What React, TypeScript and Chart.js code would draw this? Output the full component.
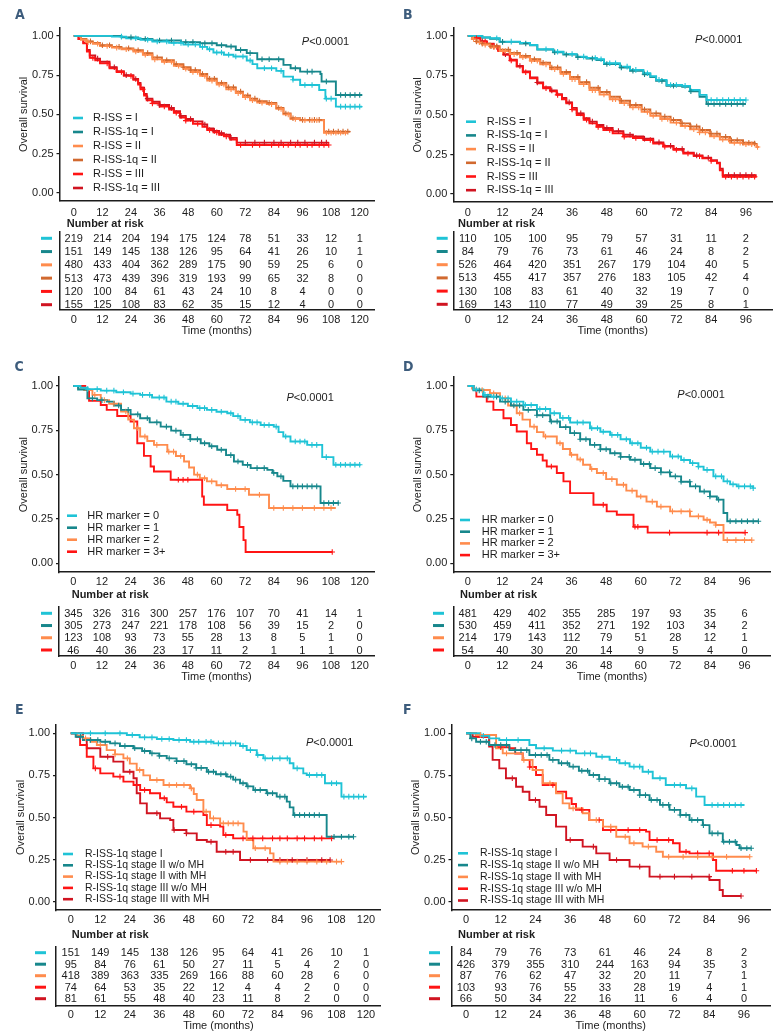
import React, { useEffect, useRef } from "react";
import { Chart, registerables } from "chart.js";

Chart.register(...registerables);

const FONT = '"Liberation Sans", Arial, Helvetica, sans-serif';
const LETTER_FONT = '"Liberation Sans Narrow", "DejaVu Sans Condensed", "Liberation Sans", sans-serif';
const INK = "#1c1c1c";
const LETTER_INK = "#3d5c7c";

type Pt = [number, number];

// ---------------- tick labels ----------------
const TICKS_120 = [0, 12, 24, 36, 48, 60, 72, 84, 96, 108, 120];
const TICKS_96 = [0, 12, 24, 36, 48, 60, 72, 84, 96];
const Y_TICKS = [0, 0.25, 0.5, 0.75, 1];

// ---------------- categories ----------------
const LABELS_AB = ["R-ISS = I", "R-ISS-1q = I", "R-ISS = II", "R-ISS-1q = II", "R-ISS = III", "R-ISS-1q = III"];
const LABELS_CD = ["HR marker = 0", "HR marker = 1", "HR marker = 2", "HR marker = 3+"];
const LABELS_EF = [
  "R-ISS-1q stage I",
  "R-ISS-1q stage II w/o MH",
  "R-ISS-1q stage II with MH",
  "R-ISS-1q stage III w/o MH",
  "R-ISS-1q stage III with MH",
];

// ---------------- colours ----------------
const CYAN = "#1fc3d6";
const TEAL = "#17878c";
const ORANGE = "#ff8c4d";
const BROWN = "#d1692f";
const RED = "#ff1414";
const DARKRED = "#d01421";
const COLORS_AB = [CYAN, TEAL, ORANGE, BROWN, RED, DARKRED];
const COLORS_CD = [CYAN, TEAL, ORANGE, RED];
const COLORS_EF = [CYAN, TEAL, ORANGE, RED, DARKRED];

// ---------------- panel A curves [months, survival] ----------------
const A_RISS_I: Pt[] = [[0,1],[16,0.995],[22,0.985],[28,0.975],[33,0.964],[40,0.955],[46,0.945],[53,0.93],[56,0.915],[58.6,0.894],[63,0.88],[67,0.868],[72.6,0.843],[75,0.82],[77,0.794],[85,0.777],[88,0.74],[92,0.72],[95,0.687],[103,0.655],[105.6,0.6],[110,0.549],[121,0.549]];
const A_RISS1Q_I: Pt[] = [[0,1],[20,0.99],[27,0.98],[33,0.97],[45,0.96],[53,0.953],[60,0.94],[64,0.932],[68,0.91],[72.6,0.89],[77,0.851],[88,0.815],[91,0.794],[95,0.772],[103.5,0.757],[104,0.709],[110,0.623],[121,0.623]];
const A_RISS_II: Pt[] = [[0,1],[3,0.975],[5.3,0.96],[8,0.95],[11,0.935],[16,0.925],[20,0.915],[25,0.9],[29,0.88],[33,0.85],[37,0.835],[42,0.81],[46,0.79],[49,0.77],[53,0.745],[56,0.715],[60,0.69],[64,0.66],[68,0.635],[71,0.61],[74,0.59],[77,0.575],[81,0.565],[85,0.535],[88,0.5],[91,0.47],[95,0.462],[105,0.383],[114.7,0.383]];
const A_RISS1Q_II: Pt[] = [[0,1],[3,0.98],[5.3,0.965],[8,0.955],[11,0.94],[16,0.93],[20,0.92],[25,0.908],[29,0.89],[33,0.862],[37,0.845],[42,0.82],[46,0.8],[49,0.782],[53,0.757],[56,0.727],[60,0.7],[64,0.672],[68,0.645],[71,0.62],[74,0.6],[77,0.583],[81,0.573],[85,0.54],[88,0.505],[91,0.475],[95,0.465],[105,0.39],[116,0.39]];
const A_RISS_III: Pt[] = [[0,1],[2,0.98],[4,0.953],[5.5,0.9],[6.7,0.86],[9,0.845],[11,0.825],[15,0.794],[18,0.77],[21,0.745],[25,0.72],[27,0.69],[28,0.66],[29.5,0.62],[30.6,0.59],[33,0.57],[36,0.55],[40,0.53],[42,0.51],[44.6,0.48],[47,0.46],[50,0.44],[54,0.42],[56,0.4],[58.6,0.385],[61,0.37],[63,0.36],[65.6,0.34],[68.4,0.305],[107,0.305]];
const A_RISS1Q_III: Pt[] = [[0,1],[2,0.98],[4,0.955],[5.5,0.91],[6.7,0.875],[9,0.855],[11,0.835],[15,0.8],[18,0.775],[21,0.75],[25,0.725],[27,0.7],[28,0.67],[29.5,0.63],[30.6,0.6],[33,0.58],[36,0.56],[40,0.54],[42,0.52],[44.6,0.49],[47,0.47],[50,0.455],[54,0.435],[56,0.41],[58.6,0.395],[61,0.38],[63,0.37],[65.6,0.35],[68.4,0.32],[107,0.32]];

// censoring times (months)
const A_RISS_I_C = [20,26,31,35,39,42,45,48,51,54,57,60,62,65,68,71,74,80,83,87,92,97,100,106,108,112,114,116,118,120];
const A_RISS1Q_I_C = [24,30,36,41,47,50,55,58,62,66,70,74,79,82,86,93,98,100,106,112,114,116,118,120];
const A_RISS_II_C = [6,10,14,18,22,26,30,34,38,41,44,47,50,52,55,58,61,63,66,69,72,75,79,83,87,90,93,97,100,102,106,108,110,112,114];
const A_RISS1Q_II_C = [7,12,15,19,23,27,31,35,39,43,46,49,51,54,57,59,62,65,67,70,73,76,78,82,86,89,92,96,99,101,103,107,109,111,113,115];
const A_RISS_III_C = [8,14,20,24,29,33,38,43,47,52,57,60,64,70,75,78,83,86,88,90,93,95,98,100,103,105,107];
const A_RISS1Q_III_C = [10,17,22,26,31,36,41,45,49,55,59,62,66,72,76,80,84,87,91,94,97,101,104,106];

// ---------------- panel B ----------------
const B_RISS_I: Pt[] = [[0,1],[5,0.99],[7.7,0.985],[11,0.964],[18,0.955],[21.5,0.943],[24,0.916],[29.5,0.9],[33,0.885],[37.6,0.869],[41,0.86],[44.5,0.852],[47,0.827],[52.5,0.806],[56,0.785],[60.6,0.764],[63,0.745],[65,0.722],[68.6,0.69],[74,0.684],[76.7,0.658],[80,0.627],[82.4,0.595],[96,0.595]];
const B_RISS1Q_I: Pt[] = [[0,1],[5,0.99],[7.7,0.982],[11,0.962],[18,0.952],[21.5,0.94],[24,0.913],[29.5,0.897],[33,0.882],[37.6,0.866],[41,0.857],[44.5,0.848],[47,0.822],[52.5,0.8],[56,0.78],[60.6,0.758],[63,0.74],[65,0.716],[68.6,0.685],[74,0.678],[76.7,0.65],[80,0.615],[82.4,0.57],[96,0.57]];
const B_RISS_II: Pt[] = [[0,1],[1.5,0.98],[3,0.96],[5,0.945],[7.7,0.928],[11,0.905],[14.6,0.885],[18,0.865],[21.5,0.843],[25,0.82],[28.4,0.79],[32,0.76],[35.3,0.727],[38.5,0.695],[42,0.657],[45.5,0.63],[49,0.6],[52.5,0.575],[56,0.548],[60,0.52],[63,0.495],[66.5,0.475],[70,0.452],[73.5,0.43],[76.7,0.41],[80,0.39],[83.6,0.366],[87,0.345],[90.5,0.325],[95,0.315],[99.7,0.298],[100.5,0.298]];
const B_RISS1Q_II: Pt[] = [[0,1],[1.5,0.982],[3,0.965],[5,0.95],[7.7,0.935],[11,0.913],[14.6,0.893],[18,0.873],[21.5,0.852],[25,0.83],[28.4,0.8],[32,0.772],[35.3,0.74],[38.5,0.708],[42,0.672],[45.5,0.645],[49,0.615],[52.5,0.59],[56,0.563],[60,0.535],[63,0.51],[66.5,0.49],[70,0.468],[73.5,0.447],[76.7,0.427],[80,0.405],[83.6,0.382],[87,0.362],[90.5,0.34],[95,0.325],[99,0.32]];
const B_RISS_III: Pt[] = [[0,1],[2,0.985],[4.3,0.964],[6.5,0.948],[8.9,0.93],[10.5,0.905],[12.3,0.88],[14.5,0.845],[16.9,0.806],[19,0.77],[21.5,0.732],[24,0.7],[26,0.669],[28.5,0.65],[30.7,0.627],[32.5,0.6],[34,0.574],[36,0.535],[37.6,0.5],[40,0.47],[42,0.447],[44.5,0.425],[46.8,0.405],[50,0.385],[53.7,0.363],[57,0.355],[60.6,0.342],[64,0.32],[67.5,0.3],[71,0.28],[74.4,0.257],[78,0.24],[81,0.226],[84,0.21],[86,0.194],[87,0.15],[88,0.11],[99.7,0.11]];
const B_RISS1Q_III: Pt[] = [[0,1],[2,0.985],[4.3,0.966],[6.5,0.95],[8.9,0.933],[10.5,0.91],[12.3,0.885],[14.5,0.85],[16.9,0.81],[19,0.775],[21.5,0.738],[24,0.705],[26,0.675],[28.5,0.655],[30.7,0.632],[32.5,0.607],[34,0.58],[36,0.545],[37.6,0.51],[40,0.48],[42,0.458],[44.5,0.437],[46.8,0.418],[50,0.398],[53.7,0.375],[57,0.365],[60.6,0.35],[64,0.327],[67.5,0.305],[71,0.285],[74.4,0.262],[78,0.245],[81,0.23],[84,0.214],[86,0.198],[87,0.16],[88,0.12],[99.7,0.12]];

const B_RISS_I_C = [10,15,27,31,36,40,44,46,49,51,55,58,62,66,70,72,75,84,86,88,90,92,94,96];
const B_RISS1Q_I_C = [12,20,30,34,38,43,48,53,57,61,67,71,77,83,85,87,89,91,93,95];
const B_RISS_II_C = [2,4,6,9,12,13,16,19,22,24,27,30,33,36,37,40,43,44,47,50,51,54,57,59,62,64,67,69,72,75,78,80,82,85,88,90,92,94,96,98,100];
const B_RISS1Q_II_C = [3,5,8,10,14,17,20,23,26,29,31,34,38,41,45,48,53,56,58,61,65,68,71,74,77,79,81,84,86,89,91,93,95,97,99];
const B_RISS_III_C = [3,6,10,15,20,27,31,36,41,45,49,54,58,63,68,72,76,80,84,89,91,93,95,97,99];
const B_RISS1Q_III_C = [5,9,13,18,24,29,35,39,43,48,52,56,61,66,70,74,79,83,90,92,94,96,98];

// ---------------- panel C ----------------
const C_HR0: Pt[] = [[0,1],[3,0.99],[6,0.982],[11.5,0.974],[18,0.965],[24,0.957],[28,0.95],[33,0.935],[39,0.912],[44,0.9],[48,0.887],[52,0.875],[56,0.865],[60,0.855],[64.5,0.846],[67,0.83],[70,0.809],[74,0.795],[78.5,0.78],[84,0.771],[86,0.74],[88,0.715],[91,0.687],[98,0.668],[104.3,0.599],[109,0.556],[120.4,0.556]];
const C_HR1: Pt[] = [[0,1],[2,0.98],[5.9,0.93],[10,0.92],[14,0.912],[17,0.89],[20,0.865],[24,0.84],[28,0.818],[32,0.795],[36.6,0.771],[41,0.748],[45,0.724],[49,0.7],[53.4,0.677],[57,0.66],[60.3,0.64],[64,0.61],[67.3,0.574],[71,0.555],[74.3,0.537],[81.3,0.527],[83.5,0.51],[85.5,0.49],[88,0.465],[91,0.434],[103.6,0.34],[111.3,0.34]];
const C_HR2: Pt[] = [[0,1],[2,0.985],[4.5,0.977],[8,0.95],[11.5,0.92],[15,0.9],[20,0.856],[23,0.81],[25.4,0.762],[28,0.715],[31,0.69],[33.8,0.668],[39.4,0.63],[43,0.605],[46.4,0.574],[48.5,0.54],[50.6,0.5],[53,0.48],[56,0.462],[60,0.44],[64.5,0.419],[73.6,0.387],[82,0.312],[110,0.312]];
const C_HR3: Pt[] = [[0,1],[5,0.977],[6.6,0.916],[11.5,0.893],[14,0.865],[18.4,0.831],[24,0.8],[26.8,0.677],[29.6,0.606],[32.4,0.546],[33.8,0.518],[40.8,0.471],[54,0.377],[54.7,0.33],[64.5,0.3],[68.7,0.274],[69.6,0.205],[71.3,0.131],[72.2,0.064],[108.5,0.064]];

const C_HR0_C = [6,10,14,17,21,25,29,32,36,38,41,43,46,50,53,55,58,62,66,69,72,75,77,80,82,85,89,93,95,97,100,102,106,110,112,114,116,118,120];
const C_HR1_C = [8,12,19,23,27,31,35,39,43,46,49,52,55,58,62,66,69,73,77,80,84,87,92,94,96,98,100,102,105,107,109,111];
const C_HR2_C = [9,13,17,22,27,30,35,40,42,45,52,55,58,62,68,72,78,84,88,92,96,101,105,108];
const C_HR3_C = [44,46,48,108.5];

// ---------------- panel D ----------------
const D_HR0: Pt[] = [[0,1],[2,0.98],[5.4,0.95],[8,0.94],[11.2,0.93],[15,0.912],[19.3,0.893],[24,0.87],[28.6,0.846],[32,0.82],[35.5,0.794],[42.4,0.762],[46,0.742],[49.4,0.724],[53,0.7],[56.3,0.677],[60,0.652],[63.3,0.63],[70.2,0.602],[74,0.583],[77.1,0.565],[80,0.545],[81.8,0.527],[85.2,0.49],[88.7,0.462],[91,0.445],[93.3,0.434],[99,0.424]];
const D_HR1: Pt[] = [[0,1],[2,0.975],[5.4,0.94],[11.2,0.912],[15,0.89],[19.3,0.865],[24,0.835],[28.6,0.8],[32,0.768],[35.5,0.734],[39,0.7],[42.4,0.668],[46,0.643],[49.4,0.621],[53,0.6],[56.3,0.584],[60,0.56],[63.3,0.537],[67,0.513],[70.2,0.49],[74,0.46],[77.1,0.434],[80.5,0.405],[84,0.377],[86.4,0.359],[88.7,0.284],[90,0.237],[100.8,0.237]];
const D_HR2: Pt[] = [[0,1],[1.5,0.985],[3,0.977],[7.7,0.959],[11.2,0.93],[14,0.89],[17,0.846],[19,0.81],[21.6,0.771],[24,0.74],[26.3,0.715],[30.9,0.677],[33,0.645],[35.5,0.612],[38,0.585],[40,0.556],[42.5,0.532],[44.8,0.509],[48,0.475],[51.7,0.443],[55,0.41],[58.6,0.377],[62,0.348],[65.6,0.32],[70.2,0.293],[77.1,0.265],[81.8,0.246],[84,0.23],[86,0.216],[88.7,0.131],[98.5,0.131]];
const D_HR3: Pt[] = [[0,1],[2,0.98],[3,0.94],[6.6,0.912],[8.9,0.865],[12.4,0.818],[15,0.78],[17,0.743],[20.5,0.677],[22,0.645],[24,0.612],[26,0.58],[27.4,0.546],[30.9,0.509],[33.2,0.462],[35.5,0.396],[43.6,0.33],[48.2,0.293],[51.7,0.274],[57.5,0.206],[62.4,0.173],[96.2,0.173]];

const D_HR0_C = [3,6,9,12,14,17,20,22,25,27,30,33,35,38,40,43,45,47,50,52,55,57,59,62,64,66,68,71,73,75,78,80,83,86,88,90,92,94,96,98,99];
const D_HR1_C = [4,7,10,13,16,18,21,24,26,29,31,34,37,39,41,44,46,48,51,53,56,58,61,63,65,67,70,72,74,77,79,82,84,87,91,93,95,97,99,100.8];
const D_HR2_C = [5,9,13,18,23,27,32,36,39,43,47,50,54,57,60,64,67,71,74,77,80,83,86,90,93,96,98.5];
const D_HR3_C = [29,47,58,59,70,83,87,96.2];

// ---------------- panel E ----------------
const E_I: Pt[] = [[0,1],[18.7,1],[22.8,0.99],[28,0.976],[35,0.966],[41.7,0.96],[48.5,0.95],[58,0.94],[68.8,0.925],[71.5,0.9],[75.6,0.871],[78.3,0.851],[89,0.822],[90.5,0.792],[94.5,0.762],[95.9,0.752],[103.3,0.703],[110,0.624],[120.3,0.624]];
const E_IIWO: Pt[] = [[0,1],[2,0.98],[5,0.96],[12,0.95],[16,0.94],[20,0.925],[25.5,0.911],[29,0.895],[32.2,0.881],[36,0.866],[39,0.851],[43,0.835],[47,0.816],[51,0.795],[55.3,0.772],[59,0.757],[63.4,0.743],[66,0.725],[68.8,0.703],[71.5,0.685],[74.2,0.663],[79.6,0.644],[83.7,0.624],[87.8,0.594],[89,0.56],[90.5,0.515],[104,0.386],[114.9,0.386]];
const E_IIW: Pt[] = [[0,1],[2.5,0.985],[5,0.97],[8,0.95],[10.6,0.931],[14.6,0.9],[18,0.875],[21.4,0.851],[24,0.82],[26.8,0.782],[29.5,0.75],[32.2,0.723],[37.7,0.693],[48.5,0.673],[50,0.64],[51.2,0.604],[53.9,0.535],[56.6,0.495],[60.7,0.465],[70.2,0.416],[71.5,0.366],[74.2,0.317],[81,0.287],[82.4,0.238],[110,0.238]];
const E_IIIWO: Pt[] = [[0,1],[2.4,0.98],[3.8,0.931],[6.5,0.861],[9.2,0.792],[12,0.762],[17.3,0.743],[21.4,0.713],[25.5,0.693],[28.2,0.663],[32.2,0.644],[36.3,0.614],[39,0.59],[41.7,0.564],[47,0.535],[53.9,0.515],[55.3,0.455],[60.7,0.446],[62,0.396],[66,0.376],[106,0.376]];
const E_IIIW: Pt[] = [[0,1],[5,0.96],[6.5,0.911],[12,0.861],[17.3,0.832],[21.4,0.772],[25.5,0.733],[26.8,0.644],[28.2,0.584],[30.9,0.525],[36.3,0.495],[40.4,0.485],[41.7,0.426],[47,0.406],[51.2,0.366],[55.3,0.356],[59.3,0.297],[68.8,0.248],[105.4,0.248]];

const E_I_C = [8,14,20,25,30,33,37,40,44,47,50,52,55,57,60,62,65,67,70,73,76,79,82,85,88,92,97,100,102,106,108,111,113,115,117,119];
const E_IIWO_C = [4,8,11,14,18,22,26,30,33,36,40,43,46,49,51,53,56,58,61,63,65,67,70,72,75,77,80,82,85,87,91,93,95,97,99,101,107,110,113,114.9];
const E_IIW_C = [6,12,18,23,28,35,40,43,46,49,55,58,62,64,66,68,75,79,85,88,92,96,100,104,108,110];
const E_IIIWO_C = [10,20,30,38,45,50,57,63,70,74,78,82,85,88,92,95,99,102,106];
const E_IIIW_C = [15,24,35,42,47,57,63,66,73,80,85,90,96,102,105.4];

// ---------------- panel F ----------------
const F_I: Pt[] = [[0,1],[5,0.985],[8,0.97],[11.5,0.96],[21.9,0.931],[24.2,0.911],[30,0.897],[38,0.881],[45,0.861],[49.6,0.842],[53,0.822],[56.5,0.802],[61,0.772],[64.5,0.733],[69,0.693],[76,0.673],[79.5,0.624],[82.4,0.574],[96.2,0.574]];
const F_IIWO: Pt[] = [[0,1],[1.5,0.97],[3.5,0.95],[8,0.931],[15,0.9],[21.9,0.871],[28.8,0.842],[32,0.822],[35.7,0.802],[39,0.778],[42.6,0.752],[46,0.728],[49.6,0.703],[53,0.683],[56.5,0.663],[60,0.633],[63.4,0.604],[67,0.575],[70.3,0.545],[74,0.515],[77.2,0.485],[81.8,0.455],[84.1,0.406],[88.7,0.356],[93.4,0.337],[94.5,0.317],[98.5,0.317]];
const F_IIW: Pt[] = [[0,1],[3.5,0.99],[10.4,0.911],[12.7,0.881],[19.6,0.842],[23,0.782],[26.5,0.703],[31.1,0.644],[33.4,0.584],[35.7,0.554],[40.3,0.525],[42.6,0.485],[47.3,0.446],[51.9,0.386],[56.5,0.347],[61,0.327],[65.7,0.297],[68,0.267],[98,0.267]];
const F_IIIWO: Pt[] = [[0,1],[3.5,0.98],[8,0.931],[10.4,0.917],[15,0.911],[17,0.88],[19.6,0.842],[22,0.8],[24.2,0.752],[26.5,0.693],[31.1,0.653],[34.6,0.614],[36.5,0.58],[38,0.545],[42.6,0.485],[47.3,0.426],[62.2,0.416],[63.4,0.366],[71.5,0.347],[73.8,0.297],[77.2,0.287],[85.3,0.248],[86.4,0.184],[100.3,0.184]];
const F_IIIW: Pt[] = [[0,1],[2.3,0.98],[8,0.921],[9.2,0.842],[11.5,0.792],[13.8,0.733],[17.3,0.683],[19.6,0.653],[21.9,0.604],[25.4,0.564],[27.7,0.515],[31.1,0.446],[34.6,0.366],[40.3,0.327],[45,0.287],[49.6,0.248],[56.5,0.208],[63.4,0.149],[84.1,0.129],[87.6,0.069],[88.7,0.034],[95,0.034]];

const F_I_C = [6,14,18,27,33,36,41,43,47,52,55,58,60,63,67,72,74,78,85,87,89,91,93,95];
const F_IIWO_C = [2,5,7,10,12,14,17,19,21,24,26,28,30,33,35,37,40,42,44,46,48,50,52,54,56,58,60,62,64,66,68,70,72,74,76,78,80,82,85,87,89,91,93,95,97,98.5];
const F_IIW_C = [5,14,20,29,37,45,50,55,58,63,70,75,80,85,90,98];
const F_IIIWO_C = [12,22,30,40,46,50,56,60,66,70,76,80,84,92,96,100.3];
const F_IIIW_C = [16,24,36,44,52,60,67,72,78,84,95];

// ---------------- numbers at risk ----------------
const A_RISK_RISS_I = [219,214,204,194,175,124,78,51,33,12,1];
const A_RISK_RISS1Q_I = [151,149,145,138,126,95,64,41,26,10,1];
const A_RISK_RISS_II = [480,433,404,362,289,175,90,59,25,6,0];
const A_RISK_RISS1Q_II = [513,473,439,396,319,193,99,65,32,8,0];
const A_RISK_RISS_III = [120,100,84,61,43,24,10,8,4,0,0];
const A_RISK_RISS1Q_III = [155,125,108,83,62,35,15,12,4,0,0];

const B_RISK_RISS_I = [110,105,100,95,79,57,31,11,2];
const B_RISK_RISS1Q_I = [84,79,76,73,61,46,24,8,2];
const B_RISK_RISS_II = [526,464,420,351,267,179,104,40,5];
const B_RISK_RISS1Q_II = [513,455,417,357,276,183,105,42,4];
const B_RISK_RISS_III = [130,108,83,61,40,32,19,7,0];
const B_RISK_RISS1Q_III = [169,143,110,77,49,39,25,8,1];

const C_RISK_HR0 = [345,326,316,300,257,176,107,70,41,14,1];
const C_RISK_HR1 = [305,273,247,221,178,108,56,39,15,2,0];
const C_RISK_HR2 = [123,108,93,73,55,28,13,8,5,1,0];
const C_RISK_HR3 = [46,40,36,23,17,11,2,1,1,1,0];

const D_RISK_HR0 = [481,429,402,355,285,197,93,35,6];
const D_RISK_HR1 = [530,459,411,352,271,192,103,34,2];
const D_RISK_HR2 = [214,179,143,112,79,51,28,12,1];
const D_RISK_HR3 = [54,40,30,20,14,9,5,4,0];

const E_RISK_I = [151,149,145,138,126,95,64,41,26,10,1];
const E_RISK_IIWO = [95,84,76,61,50,27,11,5,4,2,0];
const E_RISK_IIW = [418,389,363,335,269,166,88,60,28,6,0];
const E_RISK_IIIWO = [74,64,53,35,22,12,4,4,2,0,0];
const E_RISK_IIIW = [81,61,55,48,40,23,11,8,2,0,0];

const F_RISK_I = [84,79,76,73,61,46,24,8,2];
const F_RISK_IIWO = [426,379,355,310,244,163,94,35,3];
const F_RISK_IIW = [87,76,62,47,32,20,11,7,1];
const F_RISK_IIIWO = [103,93,76,55,33,28,19,4,1];
const F_RISK_IIIW = [66,50,34,22,16,11,6,4,0];

// ---------------- assembly ----------------
interface PanelData {
  labels: string[];
  colors: string[];
  curves: Pt[][];
  cens: number[][];
  risk: number[][];
  ticks: number[];
}

interface Layout {
  ox: number;
  oy: number;
  letter: string;
  letterX: number;
  letterY: number;
  plot: { l: number; r: number; t: number; b: number };
  xMin: number;
  xMax: number;
  xPad: number;
  legend: { dashX: number; textX: number; y0: number; dy: number; size: number };
  pval: [number, number];
  table: { nrX: number; nrY: number; top: number; bottom: number; row0: number; rowN: number; dashX: number; tickPad: number; titleY: number };
}

const PANEL_A: PanelData = {
  labels: LABELS_AB, colors: COLORS_AB,
  curves: [A_RISS_I, A_RISS1Q_I, A_RISS_II, A_RISS1Q_II, A_RISS_III, A_RISS1Q_III],
  cens: [A_RISS_I_C, A_RISS1Q_I_C, A_RISS_II_C, A_RISS1Q_II_C, A_RISS_III_C, A_RISS1Q_III_C],
  risk: [A_RISK_RISS_I, A_RISK_RISS1Q_I, A_RISK_RISS_II, A_RISK_RISS1Q_II, A_RISK_RISS_III, A_RISK_RISS1Q_III],
  ticks: TICKS_120,
};
const PANEL_B: PanelData = {
  labels: LABELS_AB, colors: COLORS_AB,
  curves: [B_RISS_I, B_RISS1Q_I, B_RISS_II, B_RISS1Q_II, B_RISS_III, B_RISS1Q_III],
  cens: [B_RISS_I_C, B_RISS1Q_I_C, B_RISS_II_C, B_RISS1Q_II_C, B_RISS_III_C, B_RISS1Q_III_C],
  risk: [B_RISK_RISS_I, B_RISK_RISS1Q_I, B_RISK_RISS_II, B_RISK_RISS1Q_II, B_RISK_RISS_III, B_RISK_RISS1Q_III],
  ticks: TICKS_96,
};
const PANEL_C: PanelData = {
  labels: LABELS_CD, colors: COLORS_CD,
  curves: [C_HR0, C_HR1, C_HR2, C_HR3],
  cens: [C_HR0_C, C_HR1_C, C_HR2_C, C_HR3_C],
  risk: [C_RISK_HR0, C_RISK_HR1, C_RISK_HR2, C_RISK_HR3],
  ticks: TICKS_120,
};
const PANEL_D: PanelData = {
  labels: LABELS_CD, colors: COLORS_CD,
  curves: [D_HR0, D_HR1, D_HR2, D_HR3],
  cens: [D_HR0_C, D_HR1_C, D_HR2_C, D_HR3_C],
  risk: [D_RISK_HR0, D_RISK_HR1, D_RISK_HR2, D_RISK_HR3],
  ticks: TICKS_96,
};
const PANEL_E: PanelData = {
  labels: LABELS_EF, colors: COLORS_EF,
  curves: [E_I, E_IIWO, E_IIW, E_IIIWO, E_IIIW],
  cens: [E_I_C, E_IIWO_C, E_IIW_C, E_IIIWO_C, E_IIIW_C],
  risk: [E_RISK_I, E_RISK_IIWO, E_RISK_IIW, E_RISK_IIIWO, E_RISK_IIIW],
  ticks: TICKS_120,
};
const PANEL_F: PanelData = {
  labels: LABELS_EF, colors: COLORS_EF,
  curves: [F_I, F_IIWO, F_IIW, F_IIIWO, F_IIIW],
  cens: [F_I_C, F_IIWO_C, F_IIW_C, F_IIIWO_C, F_IIIW_C],
  risk: [F_RISK_I, F_RISK_IIWO, F_RISK_IIW, F_RISK_IIIWO, F_RISK_IIIW],
  ticks: TICKS_96,
};

// Chart.js places bottom tick labels ~13.4px below (axis + padding); pads below are offsets from that.
const LAYOUTS: Layout[] = [
  {
    ox: 0, oy: 0, letter: "A", letterX: 15, letterY: 19.3,
    plot: { l: 59.5, r: 374, t: 28, b: 200.7 }, xMin: -6, xMax: 126, xPad: -2.4,
    legend: { dashX: 73, textX: 93, y0: 118, dy: 14, size: 11 },
    pval: [95.7, 0.964],
    table: { nrX: 66.7, nrY: 224.3, top: 231.7, bottom: 309.3, row0: 238.3, rowN: 304.7, dashX: 41, tickPad: -4.4, titleY: 331 },
  },
  {
    ox: 390, oy: 0, letter: "B", letterX: 403, letterY: 19.3,
    plot: { l: 453.3, r: 772, t: 28, b: 202 }, xMin: -5, xMax: 105, xPad: -3.7,
    legend: { dashX: 466, textX: 486.7, y0: 121.7, dy: 13.7, size: 11 },
    pval: [78.4, 0.975],
    table: { nrX: 458, nrY: 224.3, top: 231.7, bottom: 309.3, row0: 238.3, rowN: 304.3, dashX: 436.7, tickPad: -4.4, titleY: 331 },
  },
  {
    ox: 0, oy: 330, letter: "C", letterX: 14.5, letterY: 370.5,
    plot: { l: 59, r: 374, t: 377.1, b: 572.2 }, xMin: -6, xMax: 126, xPad: -4.6,
    legend: { dashX: 67, textX: 87.3, y0: 515.7, dy: 12, size: 11 },
    pval: [89.3, 0.934],
    table: { nrX: 71.7, nrY: 595, top: 607, bottom: 656, row0: 613.3, rowN: 650, dashX: 41, tickPad: -4.4, titleY: 677 },
  },
  {
    ox: 390, oy: 330, letter: "D", letterX: 403, letterY: 370.5,
    plot: { l: 453.3, r: 770.5, t: 377.1, b: 572.2 }, xMin: -5, xMax: 105, xPad: -4.6,
    legend: { dashX: 460, textX: 481.7, y0: 520, dy: 11.7, size: 11 },
    pval: [72.7, 0.949],
    table: { nrX: 460, nrY: 595, top: 607, bottom: 656, row0: 613.3, rowN: 650, dashX: 433, tickPad: -4.4, titleY: 677 },
  },
  {
    ox: 0, oy: 660, letter: "E", letterX: 15, letterY: 714,
    plot: { l: 56, r: 380.8, t: 724.9, b: 910.1 }, xMin: -6, xMax: 126, xPad: -4.5,
    legend: { dashX: 63, textX: 85, y0: 854, dy: 11.3, size: 10.5 },
    pval: [95.6, 0.944],
    table: { nrX: 71.7, nrY: 935, top: 946.7, bottom: 1006, row0: 952.7, rowN: 998.7, dashX: 35, tickPad: -5.4, titleY: 1026 },
  },
  {
    ox: 390, oy: 660, letter: "F", letterX: 403, letterY: 714,
    plot: { l: 451.5, r: 770, t: 724.9, b: 910.1 }, xMin: -5, xMax: 105, xPad: -4.5,
    legend: { dashX: 458, textX: 480, y0: 853.3, dy: 11.8, size: 10.5 },
    pval: [77.2, 0.935],
    table: { nrX: 458, nrY: 935, top: 946.7, bottom: 1006, row0: 952.7, rowN: 998.7, dashX: 429, tickPad: -5.4, titleY: 1026 },
  },
];

const PANELS: PanelData[] = [PANEL_A, PANEL_B, PANEL_C, PANEL_D, PANEL_E, PANEL_F];

function stepAt(pts: Pt[], t: number): number {
  let s = pts[0][1];
  for (const [x, y] of pts) {
    if (x <= t) s = y;
    else break;
  }
  return s;
}

const PANEL_W = 390;
const Y_W = 42;
const X_H = 24;

function KMPlot({ panel, lay }: { panel: PanelData; lay: Layout }) {
  const ref = useRef<HTMLCanvasElement | null>(null);
  const left = lay.ox;
  const top = lay.oy;
  const H = Math.ceil(lay.plot.b - top + X_H);

  useEffect(() => {
    const marks = panel.cens.map((ts, i) => ({
      label: panel.labels[i] + " censored",
      data: ts.map((t) => ({ x: t, y: stepAt(panel.curves[i], t) })),
      showLine: false,
      borderColor: panel.colors[i],
      backgroundColor: panel.colors[i],
      pointStyle: "cross",
      pointRadius: 2.8,
      pointBorderWidth: 1.1,
      borderWidth: 1.1,
    }));
    const lines = panel.curves.map((pts, i) => ({
      label: panel.labels[i],
      data: pts.map(([x, y]) => ({ x, y })),
      borderColor: panel.colors[i],
      backgroundColor: panel.colors[i],
      borderWidth: 1.9,
      stepped: "before",
      pointRadius: 0,
      fill: false,
      tension: 0,
    }));

    const decor = {
      id: "kmDecor",
      afterDraw(chart: any) {
        const ctx = chart.ctx as CanvasRenderingContext2D;
        ctx.save();
        ctx.fillStyle = LETTER_INK;
        ctx.font = `bold 14px ${LETTER_FONT}`;
        ctx.textAlign = "left";
        ctx.textBaseline = "alphabetic";
        ctx.fillText(lay.letter, lay.letterX - left, lay.letterY - top);
        ctx.textBaseline = "middle";
        ctx.font = `${lay.legend.size}px ${FONT}`;
        panel.labels.forEach((lab, i) => {
          const y = lay.legend.y0 + i * lay.legend.dy - top;
          ctx.strokeStyle = panel.colors[i];
          ctx.lineWidth = 2.6;
          ctx.beginPath();
          ctx.moveTo(lay.legend.dashX - left, y);
          ctx.lineTo(lay.legend.dashX - left + 10, y);
          ctx.stroke();
          ctx.fillStyle = INK;
          ctx.fillText(lab, lay.legend.textX - left, y);
        });
        const px = chart.scales.x.getPixelForValue(lay.pval[0]);
        const py = chart.scales.y.getPixelForValue(lay.pval[1]);
        ctx.fillStyle = INK;
        ctx.font = `italic 11px ${FONT}`;
        ctx.fillText("P", px, py);
        const w = ctx.measureText("P").width;
        ctx.font = `11px ${FONT}`;
        ctx.fillText("<0.0001", px + w, py);
        ctx.restore();
      },
    };

    const chart = new Chart(ref.current as HTMLCanvasElement, {
      type: "line",
      data: { datasets: [...marks, ...lines] as any },
      options: {
        responsive: false,
        animation: false,
        events: [],
        layout: {
          padding: {
            left: lay.plot.l - left - Y_W,
            right: left + PANEL_W - lay.plot.r,
            top: lay.plot.t - top,
            bottom: H - X_H - (lay.plot.b - top),
          },
        },
        plugins: { legend: { display: false }, tooltip: { enabled: false }, title: { display: false } },
        scales: {
          x: {
            type: "linear",
            min: lay.xMin,
            max: lay.xMax,
            afterBuildTicks: (s: any) => {
              s.ticks = panel.ticks.map((v) => ({ value: v }));
            },
            afterFit: (s: any) => {
              s.height = X_H;
            },
            grid: { display: false },
            border: { display: true, color: INK, width: 1.5 },
            ticks: {
              font: { family: FONT, size: 11 },
              color: INK,
              padding: lay.xPad,
              maxRotation: 0,
              autoSkip: false,
              callback: (v: any) => String(v),
            },
          },
          y: {
            type: "linear",
            min: -0.05,
            max: 1.05,
            afterBuildTicks: (s: any) => {
              s.ticks = Y_TICKS.map((v) => ({ value: v }));
            },
            afterFit: (s: any) => {
              s.width = Y_W;
            },
            grid: { display: true, drawOnChartArea: false, tickLength: 3, color: INK, lineWidth: 1.2 },
            border: { display: true, color: INK, width: 1.5 },
            ticks: {
              font: { family: FONT, size: 11 },
              color: INK,
              padding: 3,
              autoSkip: false,
              callback: (v: any) => Number(v).toFixed(2),
            },
            title: {
              display: true,
              text: "Overall survival",
              font: { family: FONT, size: 11 },
              color: INK,
              padding: 0,
            },
          },
        },
      } as any,
      plugins: [decor],
    });
    return () => chart.destroy();
  }, []);

  return (
    <canvas
      ref={ref}
      width={PANEL_W}
      height={H}
      style={{ position: "absolute", left, top, width: PANEL_W, height: H }}
    />
  );
}

function RiskTable({ panel, lay }: { panel: PanelData; lay: Layout }) {
  const ref = useRef<HTMLCanvasElement | null>(null);
  const left = lay.ox;
  const top = Math.floor(lay.table.nrY - 9);
  const H = Math.ceil(lay.table.titleY + 6.6 - top);
  const n = panel.risk.length;
  const dr = (lay.table.rowN - lay.table.row0) / (n - 1);
  const yMin = -(lay.table.row0 - lay.table.top) / dr;
  const yMax = n - 1 + (lay.table.bottom - lay.table.rowN) / dr;

  useEffect(() => {
    const datasets = panel.risk.map((row, i) => ({
      label: panel.labels[i],
      data: row.map((val, j) => ({ x: panel.ticks[j], y: i, n: val })),
      showLine: false,
      pointRadius: 0,
      borderColor: panel.colors[i],
    }));

    const cells = {
      id: "riskCells",
      afterDatasetsDraw(chart: any) {
        const ctx = chart.ctx as CanvasRenderingContext2D;
        ctx.save();
        ctx.font = `11px ${FONT}`;
        ctx.fillStyle = INK;
        ctx.textAlign = "center";
        ctx.textBaseline = "middle";
        chart.data.datasets.forEach((ds: any, i: number) => {
          const meta = chart.getDatasetMeta(i);
          meta.data.forEach((el: any, j: number) => {
            ctx.fillText(String(ds.data[j].n), el.x, el.y + 0.5);
          });
          const y = chart.scales.y.getPixelForValue(i);
          ctx.strokeStyle = panel.colors[i];
          ctx.lineWidth = 3;
          ctx.beginPath();
          ctx.moveTo(lay.table.dashX - left, y);
          ctx.lineTo(lay.table.dashX - left + 11, y);
          ctx.stroke();
        });
        ctx.font = `bold 11px ${FONT}`;
        ctx.textAlign = "left";
        ctx.fillStyle = INK;
        ctx.fillText("Number at risk", lay.table.nrX - left, lay.table.nrY - top);
        ctx.restore();
      },
    };

    const chart = new Chart(ref.current as HTMLCanvasElement, {
      type: "line",
      data: { datasets: datasets as any },
      options: {
        responsive: false,
        animation: false,
        events: [],
        layout: {
          padding: {
            left: lay.plot.l - left,
            right: left + PANEL_W - lay.plot.r,
            top: lay.table.top - top,
            bottom: 0,
          },
        },
        plugins: { legend: { display: false }, tooltip: { enabled: false } },
        scales: {
          x: {
            type: "linear",
            min: lay.xMin,
            max: lay.xMax,
            afterBuildTicks: (s: any) => {
              s.ticks = panel.ticks.map((v) => ({ value: v }));
            },
            afterFit: (s: any) => {
              s.height = H - (lay.table.bottom - top);
            },
            grid: { display: false },
            border: { display: true, color: INK, width: 1.5 },
            ticks: {
              font: { family: FONT, size: 11 },
              color: INK,
              padding: lay.table.tickPad,
              maxRotation: 0,
              autoSkip: false,
              callback: (v: any) => String(v),
            },
            title: {
              display: true,
              text: "Time (months)",
              font: { family: FONT, size: 11 },
              color: INK,
              padding: 0,
            },
          },
          y: {
            type: "linear",
            min: yMin,
            max: yMax,
            reverse: true,
            ticks: { display: false },
            grid: { display: false },
            border: { display: true, color: INK, width: 1.5 },
            afterFit: (s: any) => {
              s.width = 0;
            },
          },
        },
      } as any,
      plugins: [cells],
    });
    return () => chart.destroy();
  }, []);

  return (
    <canvas
      ref={ref}
      width={PANEL_W}
      height={H}
      style={{ position: "absolute", left, top, width: PANEL_W, height: H }}
    />
  );
}

export default function App() {
  return (
    <div
      style={{
        position: "absolute",
        left: 0,
        top: 0,
        width: 780,
        height: 1033,
        background: "#ffffff",
        overflow: "hidden",
      }}
    >
      {PANELS.map((p, i) => (
        <React.Fragment key={i}>
          <KMPlot panel={p} lay={LAYOUTS[i]} />
          <RiskTable panel={p} lay={LAYOUTS[i]} />
        </React.Fragment>
      ))}
    </div>
  );
}
